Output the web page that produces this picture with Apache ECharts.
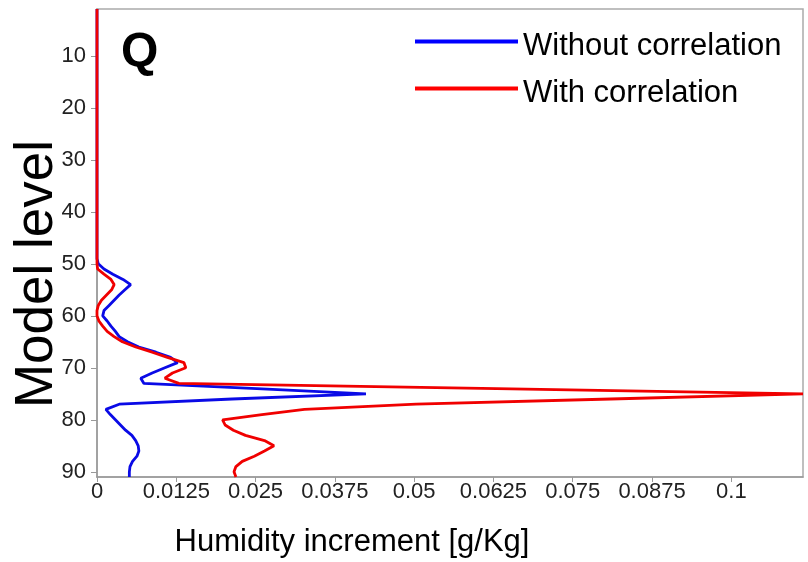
<!DOCTYPE html>
<html>
<head>
<meta charset="utf-8">
<script src="https://cdn.jsdelivr.net/npm/echarts@6/dist/echarts.min.js"></script>
<style>
html,body{margin:0;padding:0;background:#fff;}
#c{width:808px;height:562px;}
</style>
</head>
<body>
<div id="c"></div>
<script>
// Model levels (y axis)
const levels = [1,2,3,4,5,6,7,8,9,10,11,12,13,14,15,16,17,18,19,20,
  21,22,23,24,25,26,27,28,29,30,31,32,33,34,35,36,37,38,39,40,
  41,42,43,44,45,46,47,48,49,50,51,52,53,54,55,56,57,58,59,60,
  61,62,63,64,65,66,67,68,69,70,71,72,73,74,75,76,77,78,79,80,
  81,82,83,84,85,86,87,88,89,90,91];

// Without correlation (blue)
const withoutCorr = [0,0,0,0,0,0,0,0,0,0, 0,0,0,0,0,0,0,0,0,0,
  0,0,0,0,0,0,0,0,0,0, 0,0,0,0,0,0,0,0,0,0,
  0,0,0,0,0,0,0,0,0,0.0002,
  0.0011,0.0025,0.0041,0.0053,0.0044,0.0035,0.0027,0.0019,0.0011,0.0009,
  0.0016,0.0022,0.0029,0.0035,0.0048,0.0066,0.0093,0.0116,0.0127,0.0107,
  0.0087,0.0069,0.0074,0.0252,0.0424,0.0213,0.0035,0.0014,0.0021,0.0029,
  0.0037,0.0045,0.0055,0.0061,0.0065,0.0066,0.0063,0.0056,0.0052,0.0051,
  0.0051];

// With correlation (red)
const withCorr = [0,0,0,0,0,0,0,0,0,0, 0,0,0,0,0,0,0,0,0,0,
  0,0,0,0,0,0,0,0,0,0, 0,0,0,0,0,0,0,0,0,0,
  0,0,0,0,0,0,0,0,0,0,
  0.0001,0.0011,0.0022,0.0027,0.0023,0.0015,0.0007,0.0002,0,0,
  0.0003,0.0009,0.0016,0.0027,0.004,0.0061,0.0087,0.0111,0.0137,0.014,
  0.0119,0.0107,0.0129,0.063,0.1113,0.081,0.0503,0.0327,0.026,0.0198,
  0.0202,0.0215,0.0234,0.0264,0.0279,0.0264,0.0248,0.0229,0.0219,0.0216,
  0.0219];

const xTicks = [0,0.0125,0.025,0.0375,0.05,0.0625,0.075,0.0875,0.1];
const yTicks = [10,20,30,40,50,60,70,80,90];
const seriesNames = ['Without correlation','With correlation'];
const xName = 'Humidity increment [g/Kg]';
const yName = 'Model level';
const panelLabel = 'Q';

const FONT = "'Liberation Sans', Arial, Helvetica, sans-serif";
// legend line sample: bar on top, invisible dot at bottom so the bar sits above the text middle
const legendIcon = 'path://M0,0h103v4h-103z M0,13.95h0.05v0.05h-0.05z';

const chart = echarts.init(document.getElementById('c'), null, {renderer:'canvas'});
chart.setOption({
  animation:false,
  backgroundColor:'#fff',
  grid:{left:97,right:5,top:9,bottom:85,containLabel:false,outerBoundsMode:'none',
    show:true,borderColor:'#aaa',borderWidth:1.5,backgroundColor:'transparent'},
  legend:{
    orient:'vertical', left:410, top:26, itemWidth:103, itemHeight:14, itemGap:16,
    icon:legendIcon,
    textStyle:{fontFamily:FONT,fontSize:31,color:'#000',lineHeight:30},
    data:seriesNames
  },
  xAxis:{
    type:'value', min:0, max:0.1113,
    name:xName, nameLocation:'middle', nameGap:50, nameMoveOverlap:false,
    nameTextStyle:{fontFamily:FONT,fontSize:31,color:'#000',padding:[0,196,0,0]},
    axisLine:{show:true,lineStyle:{color:'#999',width:1.5}},
    axisTick:{show:true,length:5,lineStyle:{color:'#999'},customValues:xTicks},
    axisLabel:{fontFamily:FONT,fontSize:22,color:'#222',margin:4,customValues:xTicks,
      formatter:v=>String(v)},
    splitLine:{show:false}
  },
  yAxis:{
    type:'value', min:1, max:91, inverse:true,
    name:yName, nameLocation:'middle', nameGap:33, nameRotate:90, nameMoveOverlap:false,
    nameTextStyle:{fontFamily:FONT,fontSize:53,color:'#000',padding:[0,62,0,0]},
    axisLine:{show:true,lineStyle:{color:'#999',width:1.5}},
    axisTick:{show:true,length:6,lineStyle:{color:'#999'},customValues:yTicks},
    axisLabel:{fontFamily:FONT,fontSize:22,color:'#222',margin:11,customValues:yTicks},
    splitLine:{show:false}
  },
  graphic:[{
    type:'text', left:121, top:29,
    style:{text:panelLabel,fontFamily:FONT,fontSize:48,fontWeight:'bold',fill:'#000'}
  }],
  series:[
    {name:seriesNames[0],type:'line',showSymbol:false,symbol:'none',
      data:levels.map((l,i)=>[withoutCorr[i],l]),
      itemStyle:{color:'#0000ff'},
      lineStyle:{color:'#0a0ae6',width:2.8}},
    {name:seriesNames[1],type:'line',showSymbol:false,symbol:'none',
      data:levels.map((l,i)=>[withCorr[i],l]),
      itemStyle:{color:'#ff0000'},
      lineStyle:{color:'#f00000',width:2.8}}
  ]
});
</script>
</body>
</html>
